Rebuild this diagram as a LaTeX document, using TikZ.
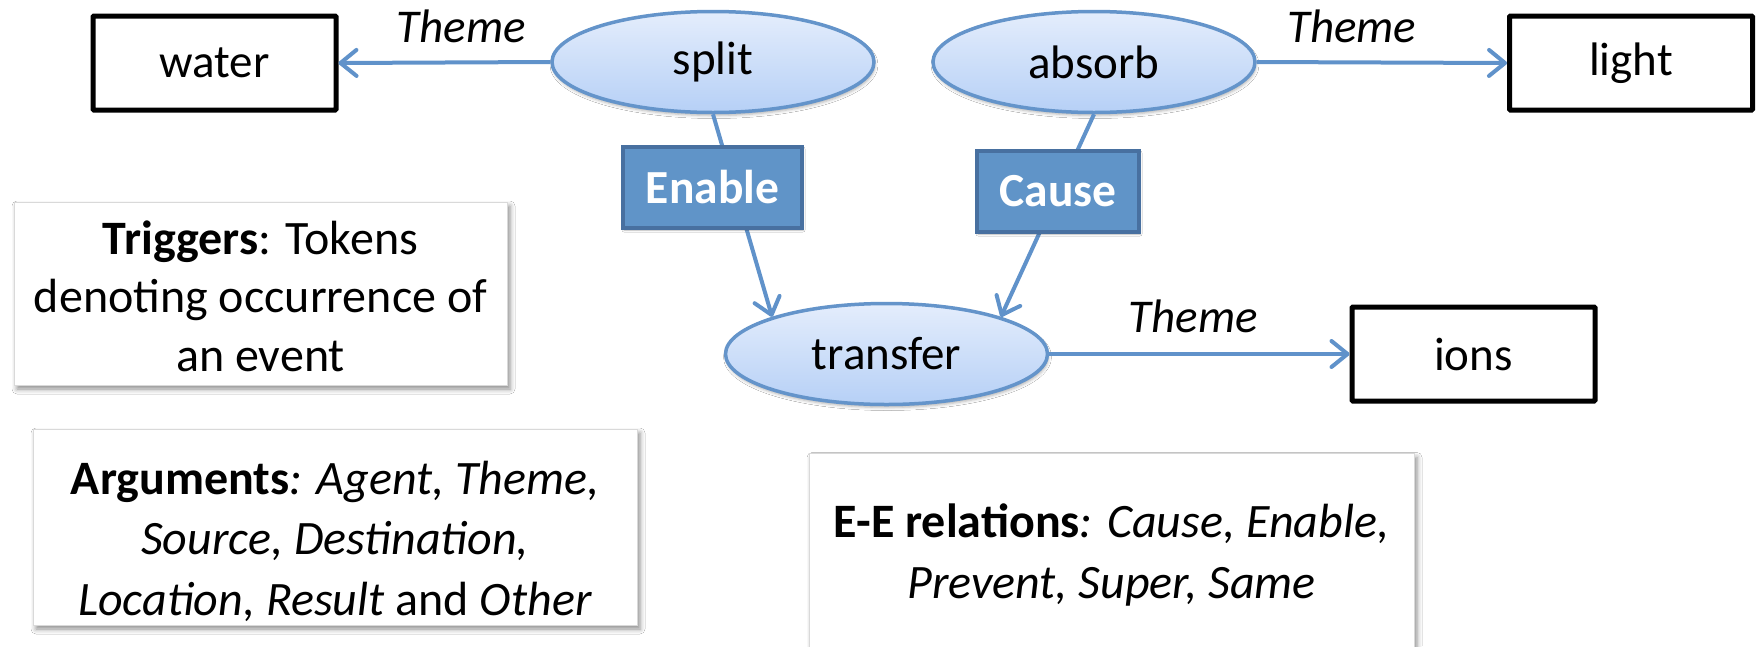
\documentclass[tikz,border=0pt]{standalone}
\usepackage{fontspec}
\setmainfont{Carlito}
\usetikzlibrary{shapes.geometric,arrows.meta,shadows.blur}
\definecolor{linkblue}{RGB}{96,146,202}
\definecolor{evtop}{RGB}{228,237,252}
\definecolor{evbot}{RGB}{182,208,246}
\definecolor{evedge}{RGB}{100,148,202}
\definecolor{relfill}{RGB}{96,148,200}
\definecolor{reledge}{RGB}{72,112,160}
\begin{document}
\begin{tikzpicture}[x=1pt,y=-1pt,
  every node/.style={font=\fontsize{47}{58.6}\selectfont},
  event/.style={ellipse, draw=evedge, line width=3.5pt, top color=evtop, bottom color=evbot,
    minimum width=322pt, minimum height=101pt, inner sep=0pt,
    blur shadow={shadow xshift=1pt, shadow yshift=-3pt, shadow blur radius=3pt, shadow opacity=30}},
  entity/.style={rectangle, draw=black, line width=5pt, fill=white, minimum width=243pt,
    minimum height=94pt, inner sep=0pt, rounded corners=1pt},
  relbox/.style={rectangle, draw=reledge, line width=3.5pt, fill=relfill, text=white,
    font=\fontsize{47.5}{58.6}\selectfont\bfseries, minimum height=81pt, inner sep=0pt,
    blur shadow={shadow xshift=1pt, shadow yshift=-2pt, shadow blur radius=2pt, shadow opacity=30}},
  notebox/.style={rectangle, draw=black!15, line width=1pt, fill=white, inner sep=0pt,
    blur shadow={shadow xshift=3pt, shadow yshift=-4pt, shadow blur radius=5pt, shadow opacity=45}},
  notetext/.style={align=center, inner sep=0pt, font=\fontsize{48}{58.6}\selectfont},
  conn/.style={draw=linkblue, line width=4pt, -{Straight Barb[length=16pt,width=26pt,round]}},
  themelab/.style={anchor=base, font=\fontsize{47}{58.6}\selectfont\itshape}
]
\useasboundingbox (0,0) rectangle (1760,646);
\fill[white] (0,0) rectangle (1760,646);

% event triggers and their arguments
\node[entity] (water) at (214.5,63) {water};
\node[event] (split) at (713,62) {split};
\node[event] (absorb) at (1094,62) {absorb};
\node[entity] (light) at (1631,63) {light};
\node[event] (transfer) at (886.5,354) {transfer};
\node[entity] (ions) at (1473.5,354) {ions};

% argument edges
\draw[conn] (split.west) -- node[themelab, pos=0.42, yshift=20pt] {Theme} (water.east);
\draw[conn] (absorb.east) -- node[themelab, pos=0.38, yshift=20pt] {Theme} (light.west);
\draw[conn] (transfer.east) -- node[themelab, pos=0.48, yshift=22pt] {Theme} (ions.west);

% event-event relations
\draw[conn] (split.south) -- (transfer.162);
\draw[conn] (absorb.south) -- (transfer.18);
\node[relbox, minimum width=179pt] (enable) at (712.5,187.5) {Enable};
\node[relbox, minimum width=162pt] (cause) at (1058,191.5) {Cause};

% explanatory notes
\node[notebox, minimum width=493pt, minimum height=183pt] (triggers) at (260.5,293.5) {};
\node[notetext] (triggerstext) at (260.5,296)
  {\textbf{Triggers}: Tokens\\denoting occurrence of\\an event};
\node[notebox, minimum width=604pt, minimum height=196pt] (arguments) at (335,527) {};
\node[notetext, font=\fontsize{48}{60.5}\selectfont] (argumentstext) at (335,541)
  {\textbf{Arguments}\textit{: Agent, Theme,}\\\textit{Source, Destination,}\\\textit{Location, Result} and \textit{Other}};
\node[notebox, minimum width=605pt, minimum height=240pt, anchor=north] (eebox) at (1111.5,453) {};
\node[notetext, font=\fontsize{48}{61}\selectfont] (eetext) at (1111.5,555)
  {\textbf{E-E relations}\textit{: Cause, Enable,}\\\textit{Prevent, Super, Same}};
\end{tikzpicture}
\end{document}
